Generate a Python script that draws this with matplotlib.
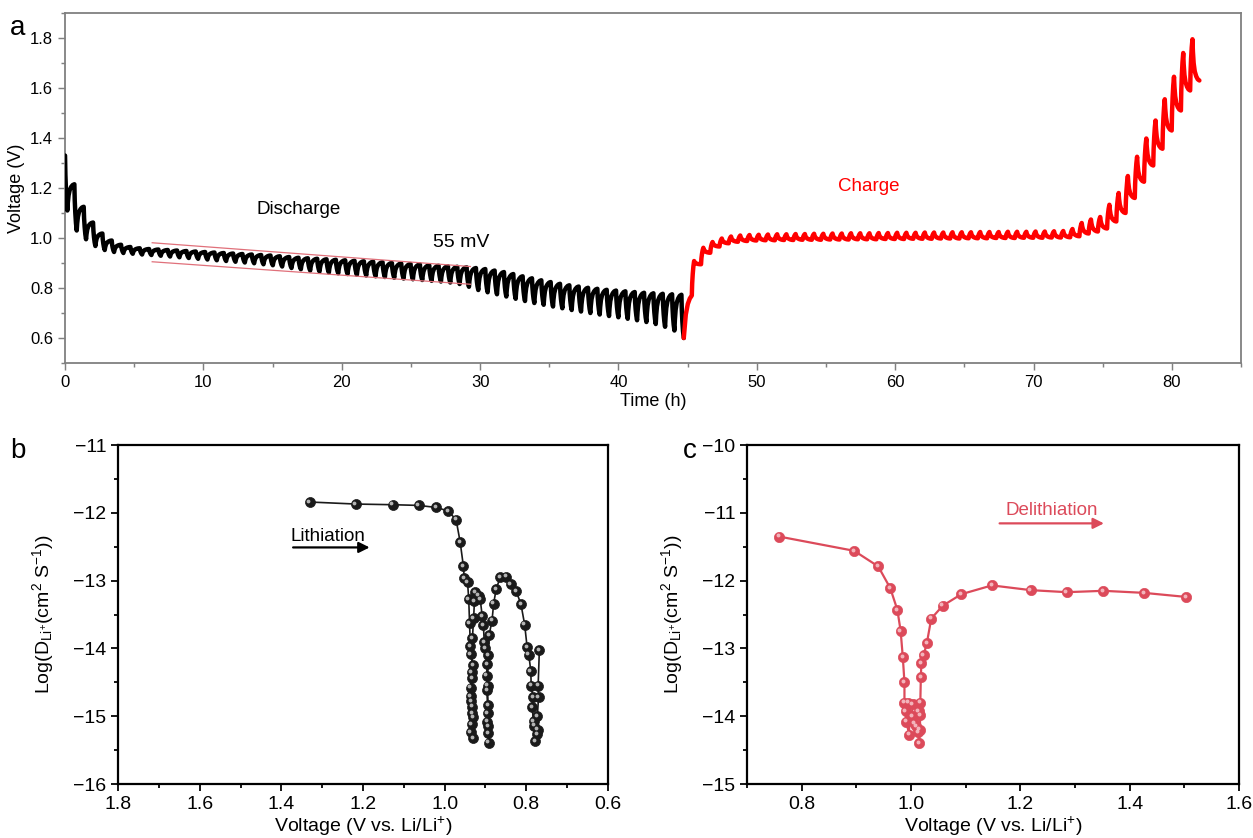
import numpy as np
import matplotlib
matplotlib.use("Agg")
import matplotlib.pyplot as plt
from matplotlib.ticker import MultipleLocator
from matplotlib.transforms import offset_copy

plt.rcParams["font.family"] = ["Liberation Sans", "DejaVu Sans"]
plt.rcParams["mathtext.fontset"] = "custom"
plt.rcParams["mathtext.rm"] = "Liberation Sans"
plt.rcParams["mathtext.it"] = "Liberation Sans:italic"

# ---------------------------------------------------------------------------
# (a) GITT voltage profile: one value per titration step
# ---------------------------------------------------------------------------
DIS_START_V = 1.33
DIS_PERIOD = 0.675          # h per pulse + rest
# voltage at the end of each discharge pulse
dis_trough = [1.110, 1.030, 0.995, 0.968, 0.952, 0.944, 0.940, 0.937, 0.934, 0.932,
              0.929, 0.926, 0.923, 0.920, 0.917, 0.914, 0.911, 0.908, 0.905, 0.902,
              0.899, 0.895, 0.891, 0.886, 0.880, 0.875, 0.870, 0.866, 0.862, 0.859,
              0.856, 0.853, 0.850, 0.847, 0.844, 0.841, 0.838, 0.835, 0.832, 0.829,
              0.826, 0.822, 0.816, 0.805, 0.792, 0.783, 0.775, 0.766, 0.757, 0.748,
              0.740, 0.733, 0.726, 0.719, 0.712, 0.706, 0.700, 0.694, 0.688, 0.683,
              0.677, 0.671, 0.664, 0.656, 0.645, 0.630, 0.600]
# voltage at the end of each discharge rest
dis_rest = [1.215, 1.125, 1.062, 1.018, 0.990, 0.973, 0.964, 0.959, 0.956, 0.954,
            0.952, 0.950, 0.948, 0.946, 0.944, 0.942, 0.940, 0.938, 0.936, 0.934,
            0.932, 0.930, 0.927, 0.924, 0.921, 0.919, 0.917, 0.915, 0.913, 0.911,
            0.909, 0.907, 0.905, 0.903, 0.900, 0.898, 0.896, 0.894, 0.891, 0.889,
            0.887, 0.885, 0.883, 0.880, 0.876, 0.870, 0.864, 0.856, 0.847, 0.839,
            0.831, 0.824, 0.817, 0.811, 0.806, 0.801, 0.797, 0.793, 0.790, 0.787,
            0.784, 0.781, 0.779, 0.777, 0.775, 0.773]

CH_START_T, CH_START_V = 44.72, 0.600
CH_FIRST_T, CH_FIRST_V = 45.30, 0.770
CH_PERIOD = 0.667
# voltage at the end of each charge pulse
ch_peak = [0.908, 0.961, 0.984, 0.998, 1.006, 1.010, 1.012, 1.013, 1.014, 1.015,
           1.015, 1.016, 1.016, 1.017, 1.017, 1.018, 1.018, 1.019, 1.019, 1.019,
           1.020, 1.020, 1.021, 1.021, 1.021, 1.022, 1.022, 1.022, 1.023, 1.023,
           1.023, 1.024, 1.024, 1.024, 1.025, 1.025, 1.025, 1.026, 1.026, 1.027,
           1.028, 1.036, 1.060, 1.074, 1.084, 1.133, 1.180, 1.248, 1.325, 1.398,
           1.470, 1.555, 1.645, 1.740, 1.795]
# voltage at the end of each charge rest
ch_rest = [0.895, 0.941, 0.966, 0.979, 0.985, 0.988, 0.990, 0.991, 0.991, 0.992,
           0.992, 0.993, 0.993, 0.993, 0.994, 0.994, 0.994, 0.995, 0.995, 0.995,
           0.996, 0.996, 0.996, 0.997, 0.997, 0.997, 0.998, 0.998, 0.998, 0.999,
           0.999, 0.999, 1.000, 1.000, 1.000, 1.001, 1.001, 1.001, 1.002, 1.002,
           1.003, 1.007, 1.018, 1.026, 1.038, 1.066, 1.100, 1.160, 1.225, 1.290,
           1.357, 1.430, 1.510, 1.590, 1.630]

# guide lines over the discharge plateau (t, V)
guide_t = [6.3, 29.3]
guide_hi = [0.981, 0.886]
guide_lo = [0.905, 0.815]

# ---------------------------------------------------------------------------
# (b) lithiation diffusion coefficients, in measurement order
# ---------------------------------------------------------------------------
lith_v = [1.331, 1.218, 1.127, 1.064, 1.021, 0.992, 0.972, 0.962, 0.954, 0.952, 0.944,
          0.941, 0.939, 0.937, 0.936, 0.931, 0.933, 0.936, 0.936, 0.933, 0.933, 0.931,
          0.936, 0.931,
          0.934, 0.935, 0.934, 0.932, 0.929, 0.927, 0.925,
          0.917, 0.913, 0.908,
          0.905, 0.903, 0.900, 0.896, 0.897, 0.896, 0.894, 0.896, 0.894, 0.892,
          0.893, 0.895, 0.895, 0.893, 0.891, 0.884,
          0.880, 0.874, 0.864, 0.849, 0.838, 0.825, 0.813, 0.804, 0.798, 0.794,
          0.789, 0.788, 0.784, 0.786, 0.782, 0.780, 0.774, 0.778,
          0.772, 0.773, 0.770, 0.771, 0.768]
lith_d = [-11.84, -11.87, -11.88, -11.89, -11.92, -11.97, -12.10, -12.43, -12.79, -12.96, -13.02,
          -13.27, -13.63, -13.97, -14.08, -14.25, -14.44, -14.58, -14.70, -14.86, -14.95, -15.01,
          -15.23, -15.32,
          -15.12, -14.78, -14.35, -13.85, -13.55, -13.30, -13.17,
          -13.22, -13.27, -13.52,
          -13.66, -13.91, -14.00, -14.23, -14.40, -14.62, -14.84, -15.08, -15.15, -15.39,
          -15.25, -14.95, -14.55, -14.10, -13.80, -13.59,
          -13.34, -13.13, -12.95, -12.94, -13.05, -13.15, -13.35, -13.65, -13.98, -14.09,
          -14.33, -14.55, -14.72, -14.87, -15.07, -15.14, -15.26, -15.37,
          -15.20, -15.00, -14.72, -14.55, -14.02]

# ---------------------------------------------------------------------------
# (c) delithiation diffusion coefficients, in measurement order
# ---------------------------------------------------------------------------
delith_v = [0.759, 0.896, 0.940, 0.962, 0.975, 0.981, 0.985, 0.988, 0.988,
            0.990, 0.991, 0.997, 0.995, 1.003, 1.002, 1.006, 1.010, 1.013, 1.015,
            1.016, 1.017, 1.014, 1.017, 1.018, 1.019, 1.023, 1.029, 1.037, 1.058,
            1.092, 1.148, 1.219, 1.285, 1.352, 1.426, 1.503]
delith_d = [-11.35, -11.56, -11.79, -12.11, -12.43, -12.74, -13.13, -13.50, -13.80,
            -13.92, -14.08, -14.27, -13.80, -13.82, -14.00, -14.10, -14.15, -14.23, -14.40,
            -14.20, -13.98, -13.93, -13.80, -13.42, -13.22, -13.10, -12.92, -12.56, -12.37,
            -12.20, -12.07, -12.14, -12.17, -12.15, -12.18, -12.24]

# shape of one titration step (fractions of the period / of the voltage step)
PULSE_T = [0.0, 0.04, 0.10, 0.17, 0.25]
PULSE_F = [0.0, 0.35, 0.62, 0.84, 1.0]
REST_T = [0.30, 0.38, 0.50, 0.66, 0.82, 1.0]
REST_F = [0.30, 0.58, 0.78, 0.90, 0.97, 1.0]

RED = "#FF0000"
PINK = "#DC4A5A"


def gitt_trace(t0, v0, period, pulse_vals, rest_vals):
    ts, vs = [t0], [v0]
    t, v_prev = t0, v0
    for k, vp in enumerate(pulse_vals):
        for ft, ff in zip(PULSE_T[1:], PULSE_F[1:]):
            ts.append(t + ft * period)
            vs.append(v_prev + ff * (vp - v_prev))
        if k < len(rest_vals):
            vr = rest_vals[k]
            for ft, ff in zip(REST_T, REST_F):
                ts.append(t + ft * period)
                vs.append(vp + ff * (vr - vp))
            v_prev = vr
        t += period
    return np.array(ts), np.array(vs)


def ball_plot(ax, x, y, color, hi, lw, ms):
    ax.plot(x, y, "-", color=color, lw=lw, zorder=2)
    ax.plot(x, y, "o", ms=ms, mfc=color, mec=color, mew=0.5, zorder=3)
    tr = offset_copy(ax.transData, fig=ax.figure, x=-1.3, y=1.3, units="dots")
    ax.plot(x, y, "o", ms=ms * 0.38, mfc=hi, mec="none", alpha=0.85,
            transform=tr, zorder=4)


def style_box(ax, color, lw, ticksize):
    for sp in ax.spines.values():
        sp.set_color(color)
        sp.set_linewidth(lw)
    ax.tick_params(which="both", direction="out", color=color, width=lw * 0.8,
                   labelsize=ticksize)
    ax.tick_params(which="major", length=5)
    ax.tick_params(which="minor", length=3)


fig = plt.figure(figsize=(12.53, 8.38), dpi=100)

# ---------------- panel a ----------------
ax_a = fig.add_axes([0.0519, 0.5668, 0.9386, 0.4177])
t_dis, v_dis = gitt_trace(0.0, DIS_START_V, DIS_PERIOD, dis_trough, dis_rest)
ax_a.plot(t_dis, v_dis, color="black", lw=3.2, solid_joinstyle="round",
          solid_capstyle="round", zorder=3)

# first red stretch: relaxation after the last discharge pulse
lead_f = [0.0, 0.55, 0.80, 0.93, 1.0]
lead_t = [0.0, 0.25, 0.50, 0.75, 1.0]
t_lead = [CH_START_T + ft * (CH_FIRST_T - CH_START_T) for ft in lead_t]
v_lead = [CH_START_V + ff * (CH_FIRST_V - CH_START_V) for ff in lead_f]
t_ch, v_ch = gitt_trace(CH_FIRST_T, CH_FIRST_V, CH_PERIOD, ch_peak, ch_rest)
t_red = np.concatenate([t_lead, t_ch[1:]])
v_red = np.concatenate([v_lead, v_ch[1:]])
ax_a.plot(t_red, v_red, color=RED, lw=3.2, solid_joinstyle="round",
          solid_capstyle="round", zorder=3)

ax_a.plot(guide_t, guide_hi, color="#E0707A", lw=0.9, zorder=4)
ax_a.plot(guide_t, guide_lo, color="#E0707A", lw=0.9, zorder=4)

ax_a.text(16.9, 1.113, "Discharge", fontsize=13.5, ha="center", va="center")
ax_a.text(28.6, 0.982, "55 mV", fontsize=14, ha="center", va="center")
ax_a.text(58.1, 1.205, "Charge", fontsize=13.5, ha="center", va="center", color=RED)

ax_a.set_xlim(0, 85)
ax_a.set_ylim(0.5, 1.9)
ax_a.xaxis.set_minor_locator(MultipleLocator(5))
ax_a.set_xticks(np.arange(0, 81, 10))
ax_a.yaxis.set_minor_locator(MultipleLocator(0.1))
ax_a.set_yticks(np.arange(0.6, 1.81, 0.2))
ax_a.set_yticklabels(["%.1f" % v for v in np.arange(0.6, 1.81, 0.2)])
style_box(ax_a, "#808080", 1.3, 12)
ax_a.set_xlabel("Time (h)", fontsize=13, labelpad=2)
ax_a.set_ylabel("Voltage (V)", fontsize=13, labelpad=4)

# ---------------- panel b ----------------
ylab = r"$\mathrm{Log(D_{Li^{+}}(cm^{2}\ S^{-1}))}$"
xlab = r"Voltage (V vs. Li/Li$^{+}$)"

ax_b = fig.add_axes([0.0942, 0.0644, 0.3910, 0.4045])
ball_plot(ax_b, lith_v, lith_d, "#1A1A1A", "#D0D0D0", 1.2, 7.2)
ax_b.annotate("", xy=(1.177, -12.51), xytext=(1.378, -12.51),
              arrowprops=dict(arrowstyle="-|>", color="black", lw=1.6, mutation_scale=16))
ax_b.text(1.285, -12.35, "Lithiation", fontsize=13.5, ha="center", va="center")
ax_b.set_xlim(1.8, 0.6)
ax_b.set_ylim(-16, -11)
ax_b.xaxis.set_minor_locator(MultipleLocator(0.1))
ax_b.yaxis.set_major_locator(MultipleLocator(1))
ax_b.yaxis.set_minor_locator(MultipleLocator(0.5))
ax_b.set_xticks(np.arange(0.6, 1.81, 0.2))
ax_b.set_xticklabels(["%.1f" % v for v in np.arange(0.6, 1.81, 0.2)])
style_box(ax_b, "black", 1.6, 14)
ax_b.set_xlabel(xlab, fontsize=14, labelpad=1)
ax_b.set_ylabel(ylab, fontsize=14, labelpad=12)

# ---------------- panel c ----------------
ax_c = fig.add_axes([0.5962, 0.0644, 0.3926, 0.4045])
ball_plot(ax_c, delith_v, delith_d, PINK, "#F8C8CD", 1.6, 7.4)
ax_c.annotate("", xy=(1.358, -11.155), xytext=(1.157, -11.155),
              arrowprops=dict(arrowstyle="-|>", color=PINK, lw=1.6, mutation_scale=16))
ax_c.text(1.258, -10.96, "Delithiation", fontsize=13.5, ha="center", va="center", color=PINK)
ax_c.set_xlim(0.7, 1.6)
ax_c.set_ylim(-15, -10)
ax_c.set_xticks(np.arange(0.8, 1.61, 0.2))
ax_c.set_xticklabels(["%.1f" % v for v in np.arange(0.8, 1.61, 0.2)])
ax_c.xaxis.set_minor_locator(MultipleLocator(0.1))
ax_c.yaxis.set_major_locator(MultipleLocator(1))
ax_c.yaxis.set_minor_locator(MultipleLocator(0.5))
style_box(ax_c, "black", 1.6, 14)
ax_c.set_xlabel(xlab, fontsize=14, labelpad=1)
ax_c.set_ylabel(ylab, fontsize=14, labelpad=12)

# panel letters
fig.text(0.008, 0.966, "a", fontsize=20, va="center")
fig.text(0.008, 0.462, "b", fontsize=20, va="center")
fig.text(0.545, 0.462, "c", fontsize=20, va="center")

fig.savefig("out.png", dpi=100)
